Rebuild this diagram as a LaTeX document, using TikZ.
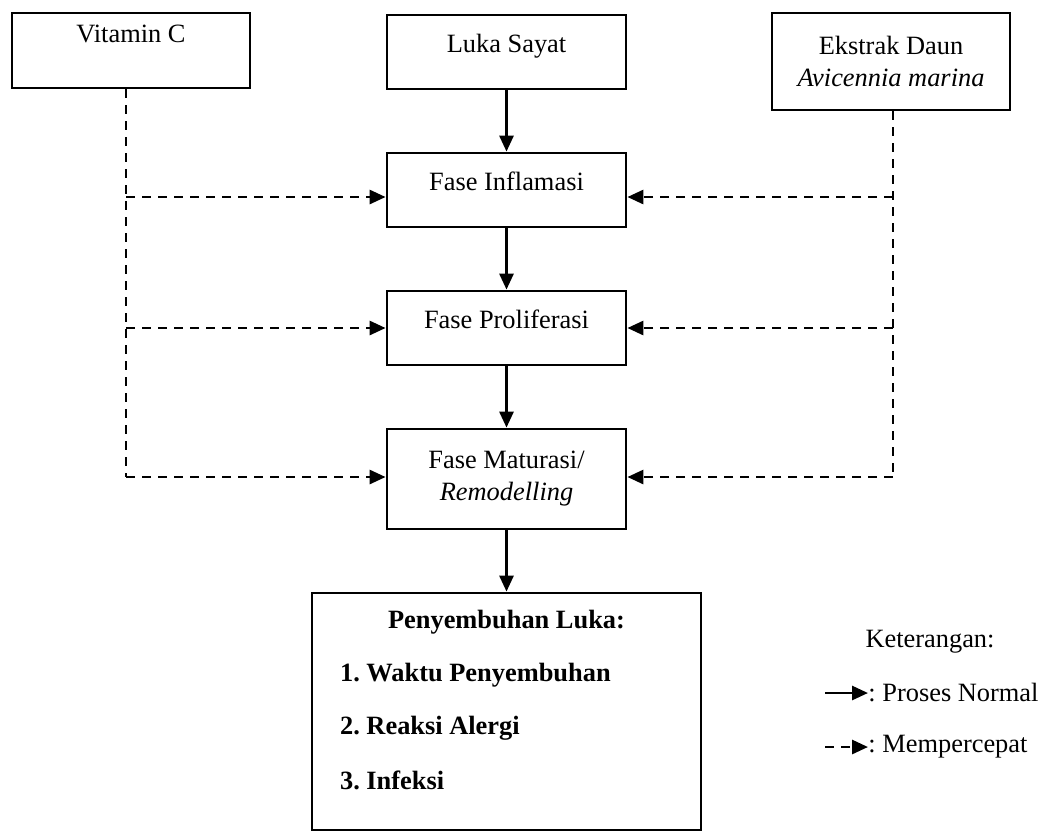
\documentclass[tikz,border=0pt]{standalone}
\usepackage{fontspec}
\setmainfont{Liberation Serif}
\usepackage{tikz}
\usetikzlibrary{positioning,arrows.meta}
\frenchspacing

\begin{document}
\begin{tikzpicture}[
    x=0.5pt, y=-0.5pt,
    node distance=30.6pt,
    every node/.style={font=\fontsize{13.2}{16}\selectfont},
    box/.style={rectangle, draw, line width=1.4pt, minimum width=119.5pt, minimum height=37pt, align=center, inner sep=2pt},
    onebox/.style={box, text height=9pt, text depth=9pt},
    arrow/.style={-{Triangle[length=8pt, width=7pt]}, line width=1.4pt},
    dashline/.style={line width=1.4pt, dash pattern=on 4.5pt off 3.5pt},
    dasharrow/.style={arrow, dash pattern=on 4.5pt off 3.5pt},
    bold/.style={font=\fontsize{13.2}{16}\selectfont\bfseries}
]
\useasboundingbox (0,0) rectangle (1043,832);

% Top row: inputs
\node[onebox, minimum width=119pt, minimum height=37.5pt, text depth=17pt] (vitc) at (131,50.5) {Vitamin C};
\node[onebox] (luka) at (506.5,52) {Luka Sayat};
\node[box, minimum width=119pt, minimum height=48.5pt] (ekstrak) at (891,61.5) {Ekstrak Daun\\\textit{Avicennia marina}};

% Middle column: healing phases
\node[onebox, below=of luka] (infl) {Fase Inflamasi};
\node[onebox, below=of infl] (prolif) {Fase Proliferasi};
\node[box, minimum height=50pt, below=of prolif] (matur) {Fase Maturasi/\\\textit{Remodelling}};

% Result box
\node[box, minimum width=194.5pt, minimum height=118.5pt, below=of matur] (heal) {};
\node[bold] (healtitle) at (506.5,622) {Penyembuhan Luka:};
\node[bold, anchor=west] (item1) at (333,675) {1. Waktu Penyembuhan};
\node[bold, anchor=west] (item2) at (333,728) {2. Reaksi Alergi};
\node[bold, anchor=west] (item3) at (333,780) {3. Infeksi};

% Normal process
\draw[arrow] (luka) -- (infl);
\draw[arrow] (infl) -- (prolif);
\draw[arrow] (prolif) -- (matur);
\draw[arrow] (matur) -- (heal);

% Vitamin C branch
\coordinate (vl) at (126,477);
\draw[dashline] (vitc.south -| vl) -- (vl);
\draw[dasharrow] (vl) -- (vl -| matur.west);
\draw[dasharrow] (vl |- 0,197) -- (infl.west |- 0,197);
\draw[dasharrow] (vl |- prolif.west) -- (prolif.west);

% Extract branch
\coordinate (vr) at (893,477);
\draw[dashline] (ekstrak.south -| vr) -- (vr);
\draw[dasharrow] (vr) -- (vr -| matur.east);
\draw[dasharrow] (vr |- 0,197) -- (infl.east |- 0,197);
\draw[dasharrow] (vr |- prolif.east) -- (prolif.east);

% Legend
\node (keter) at (930,642) {Keterangan:};
\coordinate (ln) at (825,693);
\node[anchor=west, inner sep=0pt] (lnt) at (868,693) {: Proses Normal};
\draw[arrow] (ln) -- (lnt.west);
\coordinate (ld) at (825,747);
\node[anchor=west, inner sep=0pt] (ldt) at (868,747) {: Mempercepat};
\draw[dasharrow] (ld) -- (ldt.west);

\end{tikzpicture}
\end{document}
